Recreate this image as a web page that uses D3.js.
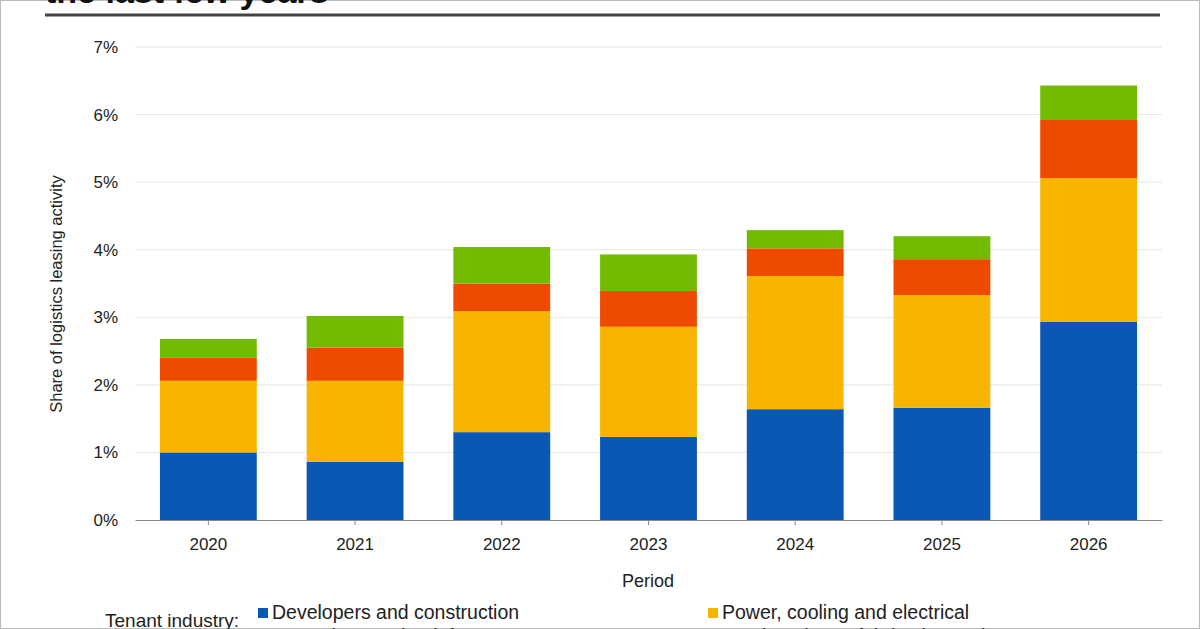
<!DOCTYPE html>
<html><head><meta charset="utf-8">
<script src="https://cdn.jsdelivr.net/npm/d3@7"></script>
<style>body{margin:0;background:#fff;overflow:hidden}svg{display:block;font-family:"Liberation Sans",Arial,sans-serif}</style>
</head><body><svg id="c" width="1200" height="629"></svg>
<script>
const years = ["2020","2021","2022","2023","2024","2025","2026"];
const series = ["Developers and construction","Power, cooling and electrical","Operations and IT infrastructure","Semiconductor fabrication and components"];
const colors = ["#0b57b4","#f7b500","#ee4a00","#72bb00"];
const developers = [1.00,0.86,1.30,1.23,1.64,1.66,2.93];
const power = [1.06,1.20,1.79,1.63,1.97,1.67,2.13];
const operations = [0.34,0.49,0.41,0.53,0.41,0.53,0.86];
const semis = [0.28,0.47,0.54,0.54,0.27,0.34,0.51];
const yTicks = [0,1,2,3,4,5,6,7];

const rows = years.map((y,i)=>({year:y,s0:developers[i],s1:power[i],s2:operations[i],s3:semis[i]}));
const stack = d3.stack().keys(["s0","s1","s2","s3"])(rows);

const svg = d3.select("#c");
svg.append("rect").attr("x",0).attr("y",0).attr("width",1200).attr("height",629).attr("fill","none").attr("stroke","#bbb").attr("stroke-width",2);
svg.append("text").attr("x",45).attr("y",3).attr("font-size",34).attr("font-weight","bold").attr("fill","#111").text("the last few years");
svg.append("line").attr("x1",45).attr("x2",1160).attr("y1",15).attr("y2",15).attr("stroke","#444").attr("stroke-width",3);

const x = d3.scaleBand().domain(years).range([135,1162]).paddingInner(0.34).paddingOuter(0.17);
const y = d3.scaleLinear().domain([0,7]).range([520,47]);

svg.append("g").selectAll("line").data(yTicks.slice(1)).join("line")
  .attr("x1",135).attr("x2",1162).attr("y1",d=>y(d)).attr("y2",d=>y(d)).attr("stroke","#e6e6e6");
svg.append("g").selectAll("text").data(yTicks).join("text")
  .attr("x",118).attr("y",d=>y(d)+6).attr("text-anchor","end").attr("font-size",17).attr("fill","#222").text(d=>d+"%");

svg.append("g").selectAll("g").data(stack).join("g").attr("fill",(d,i)=>colors[i])
  .selectAll("rect").data(d=>d).join("rect")
  .attr("x",d=>x(d.data.year)).attr("width",x.bandwidth())
  .attr("y",d=>y(d[1])).attr("height",d=>y(d[0])-y(d[1]));

const xa = svg.append("g").attr("transform","translate(0,520)")
  .call(d3.axisBottom(x).tickSize(5).tickSizeOuter(0));
xa.select(".domain").attr("stroke","#888");
xa.selectAll(".tick line").attr("stroke","#888");
xa.selectAll("text").attr("font-size",17).attr("fill","#222").attr("dy","1.3em").style("font-family","Liberation Sans,Arial,sans-serif");

svg.append("text").attr("x",648).attr("y",587).attr("text-anchor","middle").attr("font-size",18).attr("fill","#222").text("Period");
svg.append("text").attr("transform","translate(62,294) rotate(-90)").attr("text-anchor","middle").attr("font-size",16.5).attr("fill","#222").text("Share of logistics leasing activity");

svg.append("text").attr("x",105).attr("y",627).attr("font-size",19).attr("fill","#222").text("Tenant industry:");
const lx=[258,708], ly=[619,643];
series.forEach((s,i)=>{
  const g=svg.append("g").attr("transform",`translate(${lx[i%2]},${ly[Math.floor(i/2)]})`);
  g.append("rect").attr("x",0).attr("y",-11).attr("width",10).attr("height",10).attr("fill",colors[i]);
  g.append("text").attr("x",14).attr("y",0).attr("font-size",19.5).attr("fill","#222").text(s);
});
</script></body></html>
